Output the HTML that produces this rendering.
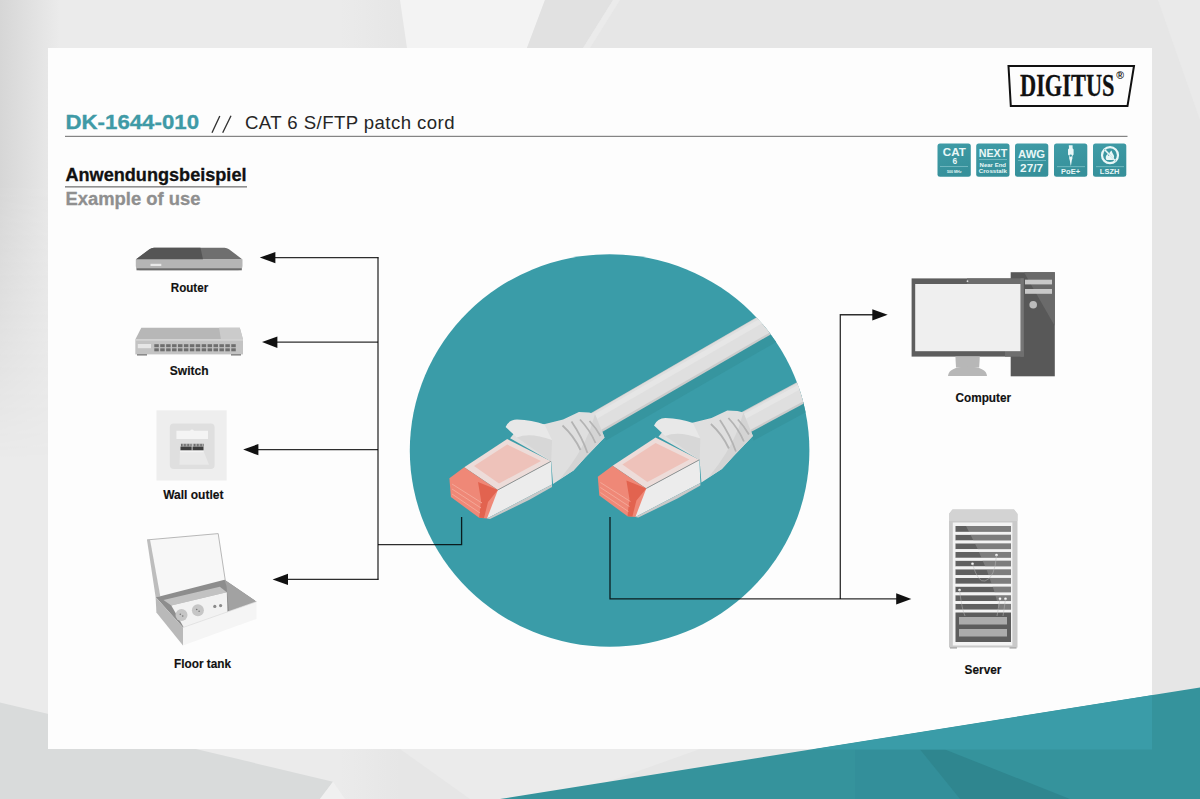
<!DOCTYPE html>
<html><head><meta charset="utf-8">
<style>
html,body{margin:0;padding:0;width:1200px;height:799px;overflow:hidden;background:#e7e7e7;}
svg{display:block;position:absolute;left:0;top:0;}
text{font-family:"Liberation Sans",sans-serif;}
</style></head>
<body>
<svg width="1200" height="799" viewBox="0 0 1200 799">
<defs>
  <linearGradient id="bgL" x1="0" y1="0" x2="1" y2="0">
    <stop offset="0" stop-color="#d6d6d6"/>
    <stop offset="1" stop-color="#ebebeb"/>
  </linearGradient>
  <linearGradient id="gV" x1="0" y1="0" x2="0" y2="1">
    <stop offset="0" stop-color="#fff"/>
    <stop offset="0.4" stop-color="#fff"/>
    <stop offset="1" stop-color="#000"/>
  </linearGradient>
  <mask id="mV"><rect x="0" y="0" width="60" height="460" fill="url(#gV)"/></mask>
  <linearGradient id="bgTop" x1="0" y1="0" x2="1" y2="0">
    <stop offset="0" stop-color="#ebebeb"/>
    <stop offset="0.85" stop-color="#ebebeb"/>
    <stop offset="1" stop-color="#e6e6e6"/>
  </linearGradient>
  <linearGradient id="badgeG" x1="0" y1="0" x2="0.3" y2="1">
    <stop offset="0" stop-color="#3f9ca7"/>
    <stop offset="1" stop-color="#36909a"/>
  </linearGradient>
  <clipPath id="circ"><ellipse cx="609.6" cy="450.5" rx="199.8" ry="196.3"/></clipPath>
</defs>

<!-- ===== background ===== -->
<rect x="0" y="0" width="1200" height="799" fill="#e6e6e6"/>
<rect x="0" y="0" width="400" height="799" fill="url(#bgTop)"/>
<rect x="0" y="0" width="60" height="460" fill="url(#bgL)" mask="url(#mV)"/>
<polygon points="400,0 545,0 527,48 407,48" fill="#f3f3f3"/>
<polygon points="545,0 613,0 583,48 527,48" fill="#e1e1e1"/>
<polygon points="613,0 620,0 590,48 583,48" fill="#ebebeb"/>
<polygon points="1158,0 1200,0 1200,120" fill="#eaeaea"/>
<polygon points="0,702.4 333,781.7 320,799 0,799" fill="#d9dbdb"/>
<polygon points="333,781.7 345,799 320,799" fill="#f0f0f0"/>
<polygon points="400,749 700,749 560,799 470,799" fill="#ebebeb"/>
<!-- ===== card ===== -->
<rect x="48" y="48" width="1104" height="701" fill="#fdfdfd"/>


<!-- ===== header ===== -->
<text x="65.5" y="129.3" font-size="21" font-weight="bold" fill="#3f9aa6" stroke="#3f9aa6" stroke-width="0.35" textLength="133.5" lengthAdjust="spacingAndGlyphs">DK-1644-010</text>
<path d="M219.8,116 L212,132.7 M231,115.7 L222.7,132.7" stroke="#333" stroke-width="1.35" fill="none"/>
<text x="245" y="129.3" font-size="18.6" fill="#262626" textLength="209.5" lengthAdjust="spacing">CAT 6 S/FTP patch cord</text>
<rect x="65" y="135.8" width="1062.5" height="1.1" fill="#777"/>

<!-- logo -->
<polygon points="1008.5,66 1134,66 1127.5,106 1010.8,106" fill="none" stroke="#111" stroke-width="2"/>
<text x="1020" y="95.7" style="font-family:'Liberation Serif',serif" font-size="31" font-weight="bold" fill="#111" stroke="#111" stroke-width="0.3" textLength="94.5" lengthAdjust="spacingAndGlyphs">DIGITUS</text>
<text x="1116.3" y="78.8" font-size="10.5" font-weight="bold" fill="#111">&#174;</text>

<!-- section title -->
<text x="65.5" y="181.3" font-size="18" font-weight="bold" fill="#111" stroke="#111" stroke-width="0.3" textLength="181" lengthAdjust="spacingAndGlyphs">Anwendungsbeispiel</text>
<rect x="65" y="186.2" width="182" height="1.3" fill="#777"/>
<text x="65.5" y="205.3" font-size="18" font-weight="bold" fill="#8f8f8f" stroke="#8f8f8f" stroke-width="0.3" textLength="135" lengthAdjust="spacingAndGlyphs">Example of use</text>


<!-- ===== badges ===== -->
<g id="badges">
<rect x="937.5" y="143.4" width="33.3" height="33.4" rx="2.5" fill="url(#badgeG)"/>
<rect x="976.2" y="143.4" width="33.3" height="33.4" rx="2.5" fill="url(#badgeG)"/>
<rect x="1015" y="143.4" width="33.3" height="33.4" rx="2.5" fill="url(#badgeG)"/>
<rect x="1054" y="143.4" width="33.3" height="33.4" rx="2.5" fill="url(#badgeG)"/>
<rect x="1093" y="143.4" width="33.3" height="33.4" rx="2.5" fill="url(#badgeG)"/>
<g fill="#e9f7f7" font-weight="bold" text-anchor="middle">
 <text x="954.3" y="156" font-size="11.8" textLength="23" lengthAdjust="spacingAndGlyphs">CAT</text>
 <text x="954.8" y="163.5" font-size="8.4">6</text>
 <text x="954.3" y="172.7" font-size="3.6">500 MHz</text>
 <text x="993" y="156.5" font-size="11.7" textLength="28.5" lengthAdjust="spacingAndGlyphs">NEXT</text>
 <text x="992.8" y="167" font-size="5.8" textLength="26.5" lengthAdjust="spacingAndGlyphs">Near End</text>
 <text x="992.8" y="172.7" font-size="5.8" textLength="28" lengthAdjust="spacingAndGlyphs">Crosstalk</text>
 <text x="1031.6" y="157.8" font-size="11.7" textLength="27" lengthAdjust="spacingAndGlyphs">AWG</text>
 <text x="1031.6" y="172" font-size="11" textLength="23" lengthAdjust="spacingAndGlyphs">27/7</text>
 <text x="1070.6" y="173.6" font-size="6.6" textLength="19" lengthAdjust="spacingAndGlyphs">PoE+</text>
 <text x="1109.6" y="173.8" font-size="7.2" textLength="19.5" lengthAdjust="spacingAndGlyphs">LSZH</text>
</g>
<g fill="#7ec0c7">
 <rect x="940" y="166" width="28" height="0.8"/>
 <rect x="979" y="159.2" width="28" height="0.8"/>
 <rect x="1018" y="160.2" width="28" height="0.8"/>
 <rect x="1057" y="166.3" width="28" height="0.8"/>
 <rect x="1096" y="166.3" width="28" height="0.8"/>
</g>
<!-- PoE plug icon -->
<g fill="#e9f7f7">
 <path d="M1068.8,145.2 h3.8 v3 l1,1.2 v5 l-1.2,1.5 v2.5 l-0.6,2 l-0.8,5 h-0.4 l-0.8,-5 l-0.6,-2 v-2.5 l-1.2,-1.5 v-5 l1,-1.2 z"/>
</g>
<circle cx="1070.7" cy="155.6" r="1.2" fill="#3b97a2"/>
<!-- LSZH icon -->
<circle cx="1110" cy="155.2" r="8" fill="none" stroke="#e9f7f7" stroke-width="2.2"/>
<path d="M1106.5,160 c-1.5,-2 -0.8,-4.5 1.2,-6.2 c0,1.2 0.5,2 1.2,2.2 c-0.3,-2.5 1,-4.5 2.8,-5.6 c0,2 1.5,3 2.2,5 c0.6,2 0,3.6 -1.2,4.6 z" fill="#e9f7f7"/>
<line x1="1104.5" y1="149.5" x2="1115.5" y2="161" stroke="#3b97a2" stroke-width="1.2"/>
<line x1="1104.8" y1="149.8" x2="1115.2" y2="160.7" stroke="#e9f7f7" stroke-width="1.6"/>
</g>

<!-- ===== teal circle + cables ===== -->
<ellipse cx="609.6" cy="450.5" rx="199.8" ry="196.3" fill="#3a9ca8"/>
<g clip-path="url(#circ)" id="cables">
 <!-- cable shadows -->
 <path d="M600,430 L836,293.6" stroke="#36959f" stroke-width="24" fill="none"/>
 <path d="M748,430 L866,366" stroke="#36959f" stroke-width="24" fill="none"/>
 <!-- cable 1 -->
 <path d="M594,423.9 L830,287.5" stroke="#cbcbcb" stroke-width="22" fill="none"/>
 <path d="M594,423.1 L830,286.7" stroke="#dfdfdf" stroke-width="19" fill="none"/>
 <path d="M594,417.5 L830,281.1" stroke="#e6e6e6" stroke-width="5" fill="none"/>
 <!-- cable 2 -->
 <path d="M742,424.4 L860,360.6" stroke="#cbcbcb" stroke-width="22" fill="none"/>
 <path d="M742,423.6 L860,359.8" stroke="#dfdfdf" stroke-width="19" fill="none"/>
 <path d="M742,418 L860,354.2" stroke="#e6e6e6" stroke-width="5" fill="none"/>
 <g id="conn">
  <!-- boot -->
  <path d="M510.1,438.3 L516.9,430 L544,424.2 L563.1,419.5 L578.9,412 L589,412.5 L595,414 L604.5,437.5 L586,456.8 L573.5,470.5 L553,484 L551.2,461.4 Z" fill="#dfdfdf"/>
  <path d="M595,414 L604.5,437.5 L586,456.8 L573.5,470.5 L560,479 Q580,455 590,430 Z" fill="#d4d4d4"/>
  <path d="M562.5,425.5 Q574,436 580.5,450 M571.5,421.5 Q582,437 587.5,453 M580,419.5 Q590,430 595.5,443 M589.5,421 Q596,428 600.5,436" stroke="#b3b3b3" stroke-width="1.8" fill="none"/>
  <!-- latch -->
  <path d="M505.6,427 Q509,419.5 517,419.5 Q532,419.8 544.5,424.5 Q548,432 552,440 L530,441 L516.9,437.5 Z" fill="#e8e8e8"/>
  <path d="M516.9,437.5 Q530,432 552,440 L551.2,461.4 Z" fill="#d7d7d7"/>
  <!-- shield top (translucent pink) -->
  <polygon points="464.2,467.2 507.2,439.1 551,461.3 497.9,489.9" fill="#eddcd9"/>
  <polygon points="474,466 507.2,444.5 541,461 499,483.5" fill="#eec2ba"/>
  <!-- shield side -->
  <polygon points="497.9,489.9 551,461.3 552,484.5 528,497 487,518.5 485,500" fill="#ececec"/>
  <polygon points="487,518.5 528,497 552,484.5 552,487 529,500 490,519" fill="#c9c9c9"/>
  <line x1="497.9" y1="489.9" x2="551" y2="461.3" stroke="#8a8a8a" stroke-width="0.9"/>
  <!-- pink tip -->
  <polygon points="449.4,478.2 464.2,467.2 497.9,489.9 487,518.5 479.1,517.8 450.9,497" fill="#ef8877"/>
  <polygon points="478,482 497.9,489.9 488,502 484,518 479.1,517.8 481,500" fill="#e2634f"/>
  <path d="M452,484 L482,503 M452,489 L481,508 M452,494 L480,513" stroke="#f4a797" stroke-width="1" fill="none"/>
 </g>
 <use href="#conn" transform="translate(148.4,-1.5)"/>
</g>

<!-- ===== left devices ===== -->
<!-- router -->
<g id="router">
 <path d="M154,247.8 L224.5,247.8 Q227,247.8 229,249.3 L242.5,259.4 L135.8,259.4 L149.5,249.3 Q151.5,247.8 154,247.8 Z" fill="#6f6f6f"/>
 <path d="M154,247.8 L200.5,247.8 L203,259.4 L135.8,259.4 L149.5,249.3 Q151.5,247.8 154,247.8 Z" fill="#555"/>
 <path d="M135.8,259.4 L242.5,259.4 L242.5,266 Q242.5,270.2 238,270.2 L140,270.2 Q135.8,270.2 135.8,266 Z" fill="#b5b5b5"/>
 <rect x="136.5" y="268.3" width="105.3" height="2" fill="#6a6a6a"/>
 <rect x="150.5" y="263.8" width="10.8" height="2.2" fill="#e8e8e8"/>
</g>
<!-- switch -->
<g id="switch">
 <path d="M141.3,327.8 L239.8,327.8 L243,339.4 L135.3,339.4 Z" fill="#b7b7b7"/>
 <path d="M219,327.8 L239.8,327.8 L243,339.4 L221,339.4 Z" fill="#cbcbcb"/>
 <rect x="135.3" y="339.4" width="107.7" height="15" fill="#c3c3c3"/>
 <rect x="135.3" y="339.4" width="107.7" height="1.2" fill="#d8d8d8"/>
 <rect x="137.8" y="344" width="13.2" height="4.2" fill="#e6e6e6"/>
 <g fill="#6e6e6e" id="ports"><rect x="154.30" y="344.2" width="4.5" height="3"/><rect x="160.22" y="344.2" width="4.5" height="3"/><rect x="166.14" y="344.2" width="4.5" height="3"/><rect x="172.06" y="344.2" width="4.5" height="3"/><rect x="177.98" y="344.2" width="4.5" height="3"/><rect x="183.90" y="344.2" width="4.5" height="3"/><rect x="189.82" y="344.2" width="4.5" height="3"/><rect x="195.74" y="344.2" width="4.5" height="3"/><rect x="201.66" y="344.2" width="4.5" height="3"/><rect x="207.58" y="344.2" width="4.5" height="3"/><rect x="213.50" y="344.2" width="4.5" height="3"/><rect x="219.42" y="344.2" width="4.5" height="3"/><rect x="225.34" y="344.2" width="4.5" height="3"/><rect x="231.26" y="344.2" width="4.5" height="3"/><rect x="154.30" y="348.3" width="4.5" height="3"/><rect x="160.22" y="348.3" width="4.5" height="3"/><rect x="166.14" y="348.3" width="4.5" height="3"/><rect x="172.06" y="348.3" width="4.5" height="3"/><rect x="177.98" y="348.3" width="4.5" height="3"/><rect x="183.90" y="348.3" width="4.5" height="3"/><rect x="189.82" y="348.3" width="4.5" height="3"/><rect x="195.74" y="348.3" width="4.5" height="3"/><rect x="201.66" y="348.3" width="4.5" height="3"/><rect x="207.58" y="348.3" width="4.5" height="3"/><rect x="213.50" y="348.3" width="4.5" height="3"/><rect x="219.42" y="348.3" width="4.5" height="3"/><rect x="225.34" y="348.3" width="4.5" height="3"/><rect x="231.26" y="348.3" width="4.5" height="3"/></g>
 <rect x="137" y="354" width="10" height="1.6" fill="#8a8a8a"/>
 <rect x="231" y="354" width="10" height="1.6" fill="#8a8a8a"/>
</g>
<!-- wall outlet -->
<g id="wall">
 <rect x="156.5" y="410.3" width="70.2" height="70.2" fill="#eeeeee"/>
 <rect x="169.8" y="423.5" width="44.8" height="45.4" rx="4" fill="#dfdfdf"/>
 <path d="M176.4,430.7 L190,430.7 Q192,428.5 194,430.7 L208,430.7 L208,439 L176.4,439 Z" fill="#f4f4f4"/>
 <rect x="180.5" y="443.5" width="23" height="3.2" fill="#d0d0d0"/>
 <g fill="#555"><rect x="181.00" y="443.8" width="0.8" height="2.6"/><rect x="182.45" y="443.8" width="0.8" height="2.6"/><rect x="183.90" y="443.8" width="0.8" height="2.6"/><rect x="185.35" y="443.8" width="0.8" height="2.6"/><rect x="186.80" y="443.8" width="0.8" height="2.6"/><rect x="188.25" y="443.8" width="0.8" height="2.6"/><rect x="189.70" y="443.8" width="0.8" height="2.6"/><rect x="191.15" y="443.8" width="0.8" height="2.6"/><rect x="192.60" y="443.8" width="0.8" height="2.6"/><rect x="194.05" y="443.8" width="0.8" height="2.6"/><rect x="195.50" y="443.8" width="0.8" height="2.6"/><rect x="196.95" y="443.8" width="0.8" height="2.6"/><rect x="198.40" y="443.8" width="0.8" height="2.6"/><rect x="199.85" y="443.8" width="0.8" height="2.6"/><rect x="201.30" y="443.8" width="0.8" height="2.6"/><rect x="202.75" y="443.8" width="0.8" height="2.6"/></g>
 <rect x="180.5" y="446.6" width="23" height="3.6" fill="#3e3e3e"/>
 <rect x="191.7" y="443.5" width="0.8" height="7" fill="#eeeeee"/>
 <path d="M180,451 L203.5,451 L209,464.8 L179.5,464.8 Z" fill="#e9e9e9"/>
 <rect x="180" y="451" width="23.5" height="1.2" fill="#f4f4f4"/>
</g>
<!-- floor tank -->
<g id="floor">
 <polygon points="147,539.9 218.2,533.6 225.3,580.5 160.3,596.2" fill="#f7f7f7"/>
 <polyline points="147,539.9 218.2,533.6 225.3,580.5" fill="none" stroke="#b0b0b0" stroke-width="0.9"/>
 <polygon points="147,539.9 150,539.6 160.3,596.2 155.6,597" fill="#bdbdbd"/>
 <polygon points="155.6,597 160.3,596.2 224.5,579.8 256.5,601.7 183,627.5" fill="#8d8d8d"/>
 <polygon points="224.5,579.8 256.5,601.7 229,611 226.5,586" fill="#a2a2a2"/>
 <polygon points="163.5,600 219.8,586.8 226.8,592.3 171.3,605.6" fill="#c2c2c2"/>
 <polygon points="171.3,605.6 226.8,592.3 227.6,615.7 183.8,627.5" fill="#f2f2f2"/>
 <circle cx="181.5" cy="615" r="6" fill="#c6c6c6"/>
 <circle cx="197.9" cy="610.3" r="6" fill="#c6c6c6"/>
 <circle cx="180.3" cy="614.2" r="0.8" fill="#777"/><circle cx="182.7" cy="616" r="0.8" fill="#777"/>
 <circle cx="196.7" cy="609.5" r="0.8" fill="#777"/><circle cx="199.1" cy="611.3" r="0.8" fill="#777"/>
 <circle cx="214.8" cy="606.4" r="1.6" fill="#8a8a8a"/>
 <circle cx="220.6" cy="605.6" r="1.6" fill="#8a8a8a"/>
 <polygon points="155.6,597 183,627.5 183,645.5 156.4,612.6" fill="#b9b9b9"/>
 <polygon points="183,627.5 256.5,601.7 256.5,618.9 183,645.5" fill="#f5f5f5"/>
 <line x1="183" y1="627.5" x2="256.5" y2="601.7" stroke="#dedede" stroke-width="0.8"/>
</g>

<!-- ===== right devices ===== -->
<g id="computer">
 <rect x="1010.7" y="272.2" width="44.1" height="104.1" fill="#585858"/>
 <polygon points="1024,272.2 1054.8,272.2 1054.8,326" fill="#6a6a6a"/>
 <rect x="1025" y="279.7" width="27" height="4.7" fill="#c9c9c9"/>
 <rect x="1025" y="289" width="27" height="4.8" fill="#c9c9c9"/>
 <circle cx="1033.2" cy="304.7" r="3.8" fill="#bcbcbc"/>
 <rect x="911.6" y="278.4" width="112.2" height="78.2" fill="#5d5d5d"/>
 <rect x="967" y="278.4" width="56.8" height="5.6" fill="#6c6c6c"/>
 <rect x="1020.5" y="278.4" width="3.3" height="78.2" fill="#767676"/>
 <rect x="1005" y="351.2" width="18.8" height="5.4" fill="#6f6f6f"/>
 <rect x="915.2" y="284" width="105.3" height="67.2" fill="#efefef"/>
 <circle cx="967.5" cy="281.2" r="0.9" fill="#dddddd"/>
 <path d="M955.4,356.6 L979.8,356.6 L979.2,367.5 L956,367.5 Z" fill="#b7b7b7"/>
 <path d="M948,376 Q948.5,367 967.5,366.5 Q986.5,367 987,376 Z" fill="#b7b7b7"/>
</g>
<g id="server">
 <path d="M952.5,509.5 L1014,509.5 L1017.5,514 L1017.5,647.5 L949,647.5 L949,514 Z" fill="#c9c9c9"/>
 <path d="M952.5,509.5 L1014,509.5 L1017.5,514 L1017.5,521 L949,521 L949,514 Z" fill="#d3d3d3"/>
 <rect x="952.8" y="522.5" width="59.6" height="123" fill="#f3f3f3"/>
 <g fill="#606060"><rect x="955.5" y="526.00" width="55.5" height="5.9"/><rect x="955.5" y="534.65" width="55.5" height="5.9"/><rect x="955.5" y="543.30" width="55.5" height="5.9"/><rect x="955.5" y="551.95" width="55.5" height="5.9"/><rect x="955.5" y="560.60" width="55.5" height="5.9"/><rect x="955.5" y="569.25" width="55.5" height="5.9"/><rect x="955.5" y="577.90" width="55.5" height="5.9"/><rect x="955.5" y="586.55" width="55.5" height="5.9"/><rect x="955.5" y="595.20" width="55.5" height="5.9"/><rect x="955.5" y="603.85" width="55.5" height="5.9"/></g>
 <clipPath id="slotclip"><path d="M955.5,526 h55.5 v86 h-55.5 z"/></clipPath>
 <path d="M966,526 L1011,526 L1011,612 L1000,612 Q990,570 966,526 Z" fill="#858585" opacity="0.8" clip-path="url(#slotclip)"/>
 <g fill="#f3f3f3"><rect x="955.5" y="531.90" width="55.5" height="2.75"/><rect x="955.5" y="540.55" width="55.5" height="2.75"/><rect x="955.5" y="549.20" width="55.5" height="2.75"/><rect x="955.5" y="557.85" width="55.5" height="2.75"/><rect x="955.5" y="566.50" width="55.5" height="2.75"/><rect x="955.5" y="575.15" width="55.5" height="2.75"/><rect x="955.5" y="583.80" width="55.5" height="2.75"/><rect x="955.5" y="592.45" width="55.5" height="2.75"/><rect x="955.5" y="601.10" width="55.5" height="2.75"/><rect x="955.5" y="609.75" width="55.5" height="2.75"/></g>
 <rect x="955.5" y="612.5" width="55.5" height="29.5" fill="#5c5c5c"/>
 <rect x="959" y="617" width="48" height="7.5" fill="#ababab"/>
 <rect x="959" y="629" width="48" height="7.5" fill="#ababab"/>
 <g fill="#f5f5f5"><circle cx="996.5" cy="555" r="1.3"/><circle cx="972.5" cy="563.8" r="1.3"/><circle cx="959.5" cy="590" r="1.3"/><circle cx="1000" cy="598.8" r="1.3"/><circle cx="1005.5" cy="598.8" r="1.3"/></g>
 <path d="M972.5,564 Q978,583 985,581 Q995,578 996.5,555 M959.5,590 Q962,610 965,616 M1000,599 Q998,610 997,616 M1005.5,599 Q1004,610 1003,616" stroke="#bbbbbb" stroke-width="0.5" fill="none"/>
 <rect x="950" y="647.3" width="7" height="1.2" fill="#999"/><rect x="1009.5" y="647.3" width="7" height="1.2" fill="#999"/>
</g>

<!-- ===== lines & arrows ===== -->
<g fill="none" stroke="#000" stroke-opacity="0.82" stroke-width="1.3">
 <path d="M378,257.6 V579.4"/>
 <path d="M275,257.6 H378.6"/>
 <path d="M277,342.1 H378"/>
 <path d="M258,449.6 H378"/>
 <path d="M287.5,579.4 H378.6"/>
 <path d="M378,544.7 H461.6 V517"/>
 <path d="M840.3,598.9 V314.75 H873"/>
 <path d="M610,517 V598.9 H897"/>
</g>
<g fill="#111">
 <polygon points="259.8,257.6 275.4,252 275.4,263.3"/>
 <polygon points="262,342.1 277.4,336.4 277.4,347.9"/>
 <polygon points="243.2,449.6 258.4,444 258.4,455.3"/>
 <polygon points="272.6,579.4 288,573.8 288,585"/>
 <polygon points="887.7,314.75 872.3,309.2 872.3,320.4"/>
 <polygon points="911.3,598.9 896.2,593.3 896.2,604.4"/>
</g>

<!-- ===== labels ===== -->
<g font-weight="bold" font-size="12.4" fill="#111" stroke="#111" stroke-width="0.15">
 <text x="170.8" y="292.2" textLength="37.4" lengthAdjust="spacingAndGlyphs">Router</text>
 <text x="169.8" y="375.4" textLength="38.8" lengthAdjust="spacingAndGlyphs">Switch</text>
 <text x="163.2" y="499.1" textLength="60.3" lengthAdjust="spacingAndGlyphs">Wall outlet</text>
 <text x="174" y="668.3" textLength="57" lengthAdjust="spacingAndGlyphs">Floor tank</text>
 <text x="955.5" y="401.8" textLength="55.6" lengthAdjust="spacingAndGlyphs">Computer</text>
 <text x="964.6" y="674" textLength="36.8" lengthAdjust="spacingAndGlyphs">Server</text>
</g>

<!-- ===== teal band ===== -->
<polygon points="500,799 1200,687.5 1200,799" fill="#35939c"/>
<polygon points="855,799 855,749.5 920,749.5 960,799" fill="#338f9a"/>
<polygon points="920,749.5 945,749.5 1070,799 960,799" fill="#2f868f"/>
<polygon points="812.5,749.5 1152,695.2 1152,749.5" fill="#3a9ca8"/>

</svg>
</body></html>
